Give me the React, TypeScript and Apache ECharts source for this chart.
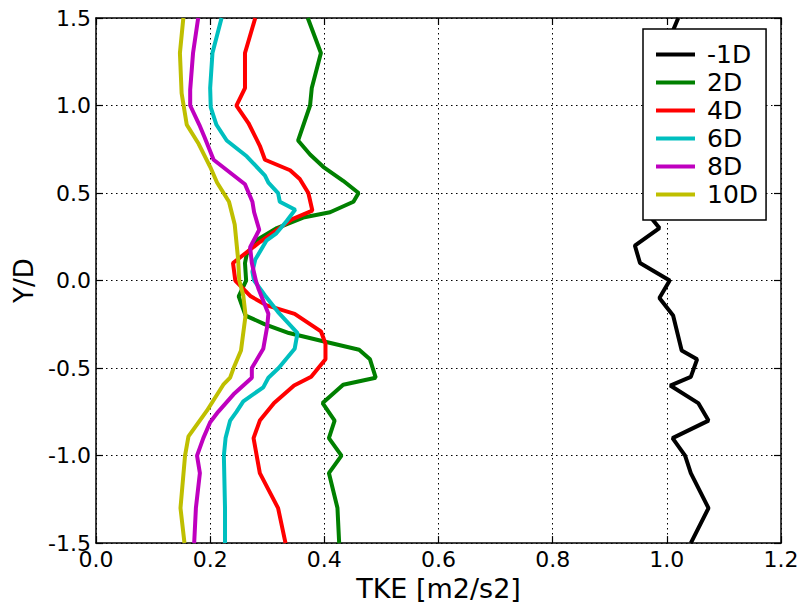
import React, { useEffect, useRef } from "react";
import * as echarts from "echarts";

const seriesNames = ["-1D", "2D", "4D", "6D", "8D", "10D"];
const seriesColors = ["#000000", "#008000", "#ff0000", "#00bfbf", "#bf00bf", "#bfbf00"];

// [TKE, Y/D]
const m1D = [
  [1.020, 1.5], [1.011, 1.43], [0.995, 1.3], [0.985, 1.1], [0.975, 0.9], [0.968, 0.7],
  [0.963, 0.55], [0.962, 0.4], [0.987, 0.3], [0.944, 0.2], [0.953, 0.1], [1.005, 0.0],
  [0.987, -0.1], [1.011, -0.2], [1.026, -0.4], [1.053, -0.45], [1.042, -0.55], [1.006, -0.6],
  [1.055, -0.7], [1.073, -0.8], [1.010, -0.9], [1.032, -1.0], [1.042, -1.1], [1.073, -1.3],
  [1.042, -1.5],
];
const d2D = [
  [0.371, 1.5], [0.394, 1.3], [0.378, 1.1], [0.375, 1.0], [0.354, 0.8], [0.375, 0.72],
  [0.398, 0.65], [0.433, 0.57], [0.460, 0.5], [0.451, 0.45], [0.41, 0.39], [0.363, 0.36],
  [0.317, 0.30], [0.281, 0.23], [0.264, 0.15], [0.261, 0.1], [0.263, 0.0], [0.250, -0.09],
  [0.262, -0.2], [0.296, -0.25], [0.338, -0.3], [0.396, -0.345], [0.461, -0.395], [0.480, -0.45],
  [0.490, -0.555], [0.433, -0.595], [0.397, -0.7], [0.418, -0.8], [0.408, -0.9], [0.430, -1.0],
  [0.408, -1.1], [0.423, -1.3], [0.426, -1.5],
];
const d4D = [
  [0.279, 1.5], [0.261, 1.3], [0.261, 1.1], [0.246, 1.0], [0.267, 0.9], [0.287, 0.77],
  [0.296, 0.69], [0.340, 0.63], [0.357, 0.58], [0.372, 0.5], [0.379, 0.4], [0.343, 0.35],
  [0.287, 0.22], [0.240, 0.1], [0.244, 0.0], [0.271, -0.09], [0.298, -0.14], [0.348, -0.19],
  [0.394, -0.29], [0.402, -0.36], [0.402, -0.45], [0.377, -0.55], [0.347, -0.6], [0.312, -0.7],
  [0.287, -0.8], [0.276, -0.9], [0.287, -1.1], [0.319, -1.3], [0.332, -1.5],
];
const d6D = [
  [0.220, 1.5], [0.204, 1.3], [0.200, 1.1], [0.201, 0.99], [0.211, 0.89], [0.229, 0.8],
  [0.264, 0.71], [0.296, 0.6], [0.302, 0.56], [0.319, 0.5], [0.322, 0.45], [0.349, 0.405],
  [0.334, 0.34], [0.316, 0.27], [0.299, 0.23], [0.279, 0.12], [0.274, 0.05], [0.277, 0.0],
  [0.296, -0.085], [0.319, -0.18], [0.353, -0.3], [0.348, -0.39], [0.320, -0.5], [0.302, -0.555],
  [0.293, -0.61], [0.258, -0.69], [0.246, -0.75], [0.235, -0.8], [0.227, -0.9], [0.224, -1.0],
  [0.226, -1.3], [0.226, -1.5],
];
const d8D = [
  [0.179, 1.5], [0.170, 1.3], [0.165, 1.09], [0.165, 1.0], [0.181, 0.89], [0.190, 0.82],
  [0.206, 0.69], [0.261, 0.55], [0.274, 0.45], [0.277, 0.39], [0.286, 0.29], [0.270, 0.19],
  [0.273, 0.1], [0.280, 0.0], [0.285, -0.05], [0.302, -0.19], [0.300, -0.26], [0.293, -0.39],
  [0.273, -0.5], [0.273, -0.555], [0.241, -0.65], [0.214, -0.75], [0.200, -0.81], [0.188, -0.9],
  [0.177, -1.0], [0.182, -1.1], [0.175, -1.3], [0.172, -1.5],
];
const d10D = [
  [0.153, 1.5], [0.147, 1.3], [0.150, 1.07], [0.159, 0.89], [0.180, 0.78], [0.200, 0.65],
  [0.212, 0.56], [0.233, 0.45], [0.243, 0.32], [0.249, 0.12], [0.251, 0.0], [0.258, -0.085],
  [0.262, -0.2], [0.254, -0.4], [0.241, -0.5], [0.235, -0.555], [0.223, -0.595], [0.194, -0.745],
  [0.162, -0.89], [0.156, -1.0], [0.148, -1.3], [0.155, -1.5],
];
const seriesData = [m1D, d2D, d4D, d6D, d8D, d10D];

const xTicks = { min: 0, max: 1.2, interval: 0.2 };
const yTicks = { min: -1.5, max: 1.5, interval: 0.5 };

const FONT = "DejaVu Sans";

export default function App() {
  const ref = useRef<HTMLDivElement>(null);
  useEffect(() => {
    if (!ref.current) return;
    const chart = echarts.init(ref.current, undefined, { renderer: "svg" });
    const axisLine = { show: true, onZero: false, lineStyle: { color: "#000", width: 1.5 } };
    const axisTick = { show: true, inside: true, length: 7, lineStyle: { color: "#000", width: 1.2 } };
    const splitLine = { show: true, lineStyle: { color: "#000", width: 1, type: [1.5, 3.5] } };
    const fmt = (v: number) => v.toFixed(1);
    chart.setOption({
      animation: false,
      backgroundColor: "#fff",
      grid: { left: 96, right: 25, top: 18, bottom: 58, containLabel: false },
      legend: {
        data: seriesNames,
        orient: "vertical",
        left: 643,
        top: 29,
        icon: "rect",
        itemWidth: 39,
        itemHeight: 4,
        itemGap: 3,
        padding: [13, 8, 13, 13],
        backgroundColor: "#fff",
        borderColor: "#000",
        borderWidth: 1.5,
        borderRadius: 0,
        textStyle: { fontFamily: FONT, fontSize: 25, color: "#000", lineHeight: 25, padding: [0, 0, 0, 7] },
      },
      xAxis: [
        {
          type: "value", ...xTicks, position: "bottom",
          axisLine, axisTick, splitLine,
          axisLabel: { formatter: fmt, fontFamily: FONT, fontSize: 22, color: "#000", margin: 5, showMinLabel: true, showMaxLabel: true },
          name: "TKE [m2/s2]", nameLocation: "middle", nameGap: 28,
          nameTextStyle: { fontFamily: FONT, fontSize: 27, color: "#000" },
        },
        {
          type: "value", ...xTicks, position: "top",
          axisLine, axisTick, splitLine: { show: false }, axisLabel: { show: false },
        },
      ],
      yAxis: [
        {
          type: "value", ...yTicks, position: "left",
          axisLine, axisTick, splitLine,
          axisLabel: { formatter: fmt, fontFamily: FONT, fontSize: 22, color: "#000", margin: 5, showMinLabel: true, showMaxLabel: true },
          name: "Y/D", nameLocation: "middle", nameGap: 58,
          nameTextStyle: { fontFamily: FONT, fontSize: 26, color: "#000" },
        },
        {
          type: "value", ...yTicks, position: "right",
          axisLine, axisTick, splitLine: { show: false }, axisLabel: { show: false },
        },
      ],
      series: seriesNames.map((name, i) => ({
        name,
        type: "line",
        xAxisIndex: 0,
        yAxisIndex: 0,
        data: seriesData[i],
        showSymbol: false,
        symbol: "none",
        clip: true,
        color: seriesColors[i],
        lineStyle: { color: seriesColors[i], width: 4 },
        itemStyle: { color: seriesColors[i] },
      })),
    });
    return () => chart.dispose();
  }, []);
  return (
    <div
      ref={ref}
      style={{ position: "fixed", left: 0, top: 0, width: 806, height: 607, background: "#fff" }}
    />
  );
}
